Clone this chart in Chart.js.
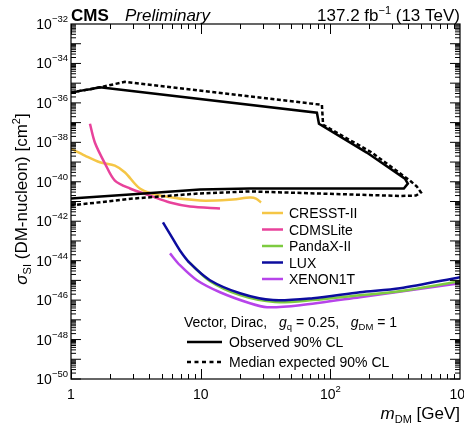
<!DOCTYPE html>
<html>
<head>
<meta charset="utf-8">
<script src="https://cdn.jsdelivr.net/npm/chart.js@4.4.1/dist/chart.umd.min.js"></script>
<style>
  html, body { margin: 0; padding: 0; background: #fff; }
  #wrap { width: 464px; height: 426px; }
</style>
</head>
<body>
<div id="wrap"><canvas id="limitChart"></canvas></div>
<script>
// CMS observed / expected contours (m_DM in GeV, sigma in cm^2), traced top branch -> tip -> bottom branch
const obsMass  = [1, 1.17, 1.40, 1.67, 78.8, 81.7, 191, 376, 396, 369, 24.0, 9.88, 2.85, 1];
const obsSigma = [3.24e-36, 4.07e-36, 4.90e-36, 6.17e-36, 3.16e-37, 8.71e-38, 3.02e-39, 1.45e-40, 8.13e-41, 4.57e-41, 4.57e-41, 4.07e-41, 2.24e-41, 1.41e-41];
const expMass  = [1, 1.17, 1.40, 1.67, 2.61, 86.1, 87.9, 209, 411, 465, 500, 457, 344, 24.0, 9.88, 3.01, 1];
const expSigma = [3.24e-36, 4.07e-36, 4.90e-36, 6.17e-36, 1.17e-35, 7.94e-37, 7.76e-38, 3.02e-39, 1.15e-40, 5.75e-41, 2.88e-41, 2.00e-41, 1.91e-41, 3.24e-41, 2.57e-41, 1.41e-41, 6.31e-42];

// direct detection limits
const cresstMass  = [1, 1.28, 1.67, 2.18, 2.61, 3.40, 4.85, 9.88, 17.7, 24.0, 26.7, 29.2];
const cresstSigma = [4.79e-39, 2.14e-39, 9.77e-40, 6.61e-40, 2.95e-40, 4.57e-41, 2.00e-41, 1.12e-41, 1.26e-41, 1.58e-41, 1.41e-41, 8.91e-42];
const cdmsMass  = [1.40, 1.53, 1.83, 2.18, 2.85, 4.06, 5.80, 8.27, 14.1];
const cdmsSigma = [8.71e-38, 9.55e-39, 8.32e-40, 1.15e-40, 4.57e-41, 2.00e-41, 8.91e-42, 5.62e-42, 4.47e-42];
const pandaMass  = [7.98, 11.8, 20.1, 37.4, 73.4, 169, 344, 1000];
const pandaSigma = [9.33e-45, 9.12e-46, 1.78e-46, 7.94e-47, 1.00e-46, 1.78e-46, 2.82e-46, 9.12e-46];
const luxMass  = [5.12, 6.01, 6.92, 8.27, 11.8, 20.1, 36.1, 73.4, 169, 344, 1000];
const luxSigma = [8.71e-43, 1.51e-43, 3.31e-44, 7.41e-45, 1.02e-45, 2.24e-46, 1.00e-46, 1.26e-46, 2.51e-46, 3.98e-46, 1.45e-45];
const xenonMass  = [5.80, 6.92, 9.36, 14.1, 24.0, 32.5, 58.3, 169, 1000];
const xenonSigma = [2.34e-44, 5.89e-45, 1.02e-45, 2.51e-46, 6.92e-47, 4.37e-47, 5.50e-47, 1.41e-46, 7.24e-46];

const legendNames  = ['CRESST-II', 'CDMSLite', 'PandaX-II', 'LUX', 'XENON1T'];
const legendColors = ['#f5c646', '#e8429b', '#7dcb40', '#0c0c9e', '#b744ea'];

const xTickValues = [1, 10, 100, 1000];
const xTickLabels = [['1', ''], ['10', ''], ['10', '2'], ['10', '3']];
const yTickExps = [-32, -34, -36, -38, -40, -42, -44, -46, -48, -50];

const FONT = '"Liberation Sans", Arial, Helvetica, sans-serif';

function pts(xs, ys) {
    return xs.map((x, i) => ({ x: x, y: ys[i] }));
}

// draws a run of text pieces: [text, font, yOffset]
function drawParts(ctx, parts, x, y, align) {
    let w = 0;
    parts.forEach(p => { ctx.font = p[1]; w += ctx.measureText(p[0]).width; });
    let cx = x;
    if (align === 'right') cx = x - w;
    if (align === 'center') cx = x - w / 2;
    parts.forEach(p => {
        ctx.font = p[1];
        ctx.fillText(p[0], cx, y + (p[2] || 0));
        cx += ctx.measureText(p[0]).width;
    });
}

const cmsDecor = {
    id: 'cmsDecor',
    afterDraw(chart) {
        const ctx = chart.ctx;
        const a = chart.chartArea;
        const xs = chart.scales.x, ys = chart.scales.y;
        ctx.save();
        ctx.strokeStyle = '#000';
        ctx.fillStyle = '#000';
        ctx.lineWidth = 1.2;
        ctx.strokeRect(a.left, a.top, a.right - a.left, a.bottom - a.top);

        // ticks, inside the frame on all four sides
        ctx.lineWidth = 1;
        ctx.beginPath();
        for (let d = 0; d < 3; d++) {
            for (let k = 1; k <= 9; k++) {
                const px = Math.round(xs.getPixelForValue(k * Math.pow(10, d))) + 0.5;
                const len = k === 1 ? 10 : 5;
                ctx.moveTo(px, a.bottom); ctx.lineTo(px, a.bottom - len);
                ctx.moveTo(px, a.top); ctx.lineTo(px, a.top + len);
            }
        }
        for (let e = -50; e < -32; e++) {
            for (let k = 1; k <= 9; k++) {
                const py = ys.getPixelForValue(k * Math.pow(10, e));
                const len = k === 1 ? 10 : 5;
                ctx.moveTo(a.left, py); ctx.lineTo(a.left + len, py);
                ctx.moveTo(a.right, py); ctx.lineTo(a.right - len, py);
            }
        }
        ctx.stroke();

        ctx.textBaseline = 'alphabetic';
        ctx.textAlign = 'left';

        // x tick labels
        xTickValues.forEach((v, i) => {
            const px = xs.getPixelForValue(v);
            drawParts(ctx, [[xTickLabels[i][0], '14px ' + FONT], [xTickLabels[i][1], '9.5px ' + FONT, -7]], px, 399, 'center');
        });
        // y tick labels
        yTickExps.forEach(e => {
            const py = ys.getPixelForValue(Math.pow(10, e));
            drawParts(ctx, [['10', '14px ' + FONT, 5], ['\u2212' + Math.abs(e), '9.5px ' + FONT, -2]], a.left - 3, py, 'right');
        });

        // header
        drawParts(ctx, [['CMS', 'bold 17px ' + FONT]], a.left, 21);
        drawParts(ctx, [['Preliminary', 'italic 17px ' + FONT]], 125, 21);
        drawParts(ctx, [['137.2 fb', '17px ' + FONT], ['\u22121', '11px ' + FONT, -7], [' (13 TeV)', '17px ' + FONT]], a.right, 21, 'right');

        // axis titles
        drawParts(ctx, [['m', 'italic 17px ' + FONT], ['DM', '11px ' + FONT, 4], [' [GeV]', '17px ' + FONT]], a.right, 419, 'right');
        ctx.save();
        ctx.translate(27, 199);
        ctx.rotate(-Math.PI / 2);
        drawParts(ctx, [['\u03c3', 'italic 17px ' + FONT], ['SI', '11px ' + FONT, 4], [' (DM-nucleon) [cm', '17px ' + FONT], ['2', '11px ' + FONT, -7], [']', '17px ' + FONT]], 0, 0, 'center');
        ctx.restore();

        // experiment legend
        legendNames.forEach((name, i) => {
            const ly = 213 + i * 16.5;
            ctx.strokeStyle = legendColors[i];
            ctx.lineWidth = 2.5;
            ctx.beginPath(); ctx.moveTo(262, ly); ctx.lineTo(283, ly); ctx.stroke();
            drawParts(ctx, [[name, '14px ' + FONT]], 289, ly + 5);
        });

        // model / CL legend
        drawParts(ctx, [['Vector, Dirac,   ', '14px ' + FONT], ['g', 'italic 14px ' + FONT], ['q', '9.5px ' + FONT, 3],
            [' = 0.25,   ', '14px ' + FONT], ['g', 'italic 14px ' + FONT], ['DM', '9.5px ' + FONT, 3], [' = 1', '14px ' + FONT]], 184, 327);
        ctx.strokeStyle = '#000';
        ctx.lineWidth = 2.5;
        ctx.beginPath(); ctx.moveTo(187, 342); ctx.lineTo(222, 342); ctx.stroke();
        ctx.setLineDash([4, 3.5]);
        ctx.beginPath(); ctx.moveTo(187, 362); ctx.lineTo(222, 362); ctx.stroke();
        ctx.setLineDash([]);
        drawParts(ctx, [['Observed 90% CL', '14px ' + FONT]], 229, 347);
        drawParts(ctx, [['Median expected 90% CL', '14px ' + FONT]], 229, 367);
        ctx.restore();
    }
};

const lineSet = (label, xs, ys, color, extra) => Object.assign({
    label: label,
    data: pts(xs, ys),
    showLine: true,
    borderColor: color,
    backgroundColor: color,
    borderWidth: 2.5,
    pointRadius: 0,
    tension: 0.3,
    fill: false
}, extra || {});

new Chart(document.getElementById('limitChart'), {
    type: 'scatter',
    data: {
        datasets: [
            lineSet('Observed 90% CL', obsMass, obsSigma, '#000', { tension: 0 }),
            lineSet('Median expected 90% CL', expMass, expSigma, '#000', { tension: 0, borderDash: [4, 2.5] }),
            lineSet('LUX', luxMass, luxSigma, legendColors[3]),
            lineSet('PandaX-II', pandaMass, pandaSigma, legendColors[2]),
            lineSet('XENON1T', xenonMass, xenonSigma, legendColors[4]),
            lineSet('CDMSLite', cdmsMass, cdmsSigma, legendColors[1]),
            lineSet('CRESST-II', cresstMass, cresstSigma, legendColors[0])
        ]
    },
    options: {
        responsive: true,
        maintainAspectRatio: false,
        animation: false,
        layout: { padding: { left: 71, right: 4, top: 24, bottom: 47 } },
        plugins: { legend: { display: false }, tooltip: { enabled: false } },
        scales: {
            x: { type: 'logarithmic', min: 1, max: 1000, display: false },
            y: { type: 'logarithmic', min: 1e-50, max: 1e-32, display: false }
        }
    },
    plugins: [cmsDecor]
});
</script>
</body>
</html>
